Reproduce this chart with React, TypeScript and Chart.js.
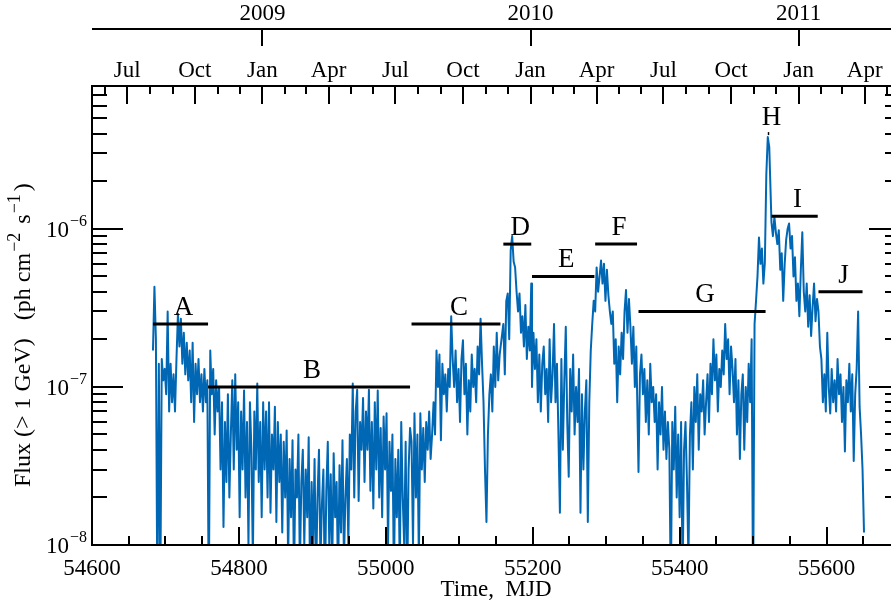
import React, { useEffect, useRef } from 'react';
import { Chart, registerables } from 'chart.js';

Chart.register(...registerables);

const FONT = "'Liberation Serif', 'Times New Roman', serif";
const CURVE_COLOR = 'rgb(0,103,180)';

// axis ranges
const X_MIN = 54600;
const X_MAX = 55700;
const Y_MIN = 1e-8;
const Y_MAX = 8e-6;

// tick labels
const xTickValues = [54600, 54800, 55000, 55200, 55400, 55600];
const yTickValues = [1e-8, 1e-7, 1e-6];
const yTickExponents = ['\u22128', '\u22127', '\u22126'];
const monthTickMJD = [54618, 54648, 54679, 54710, 54740, 54771, 54801, 54832, 54863, 54891, 54922, 54952, 54983, 55013, 55044, 55075, 55105, 55136, 55166, 55197, 55228, 55256, 55287, 55317, 55348, 55378, 55409, 55440, 55470, 55501, 55531, 55562, 55593, 55621, 55652, 55682];
const monthLabelMJD = [54648, 54740, 54832, 54922, 55013, 55105, 55197, 55287, 55378, 55470, 55562, 55652];
const monthLabels = ['Jul', 'Oct', 'Jan', 'Apr', 'Jul', 'Oct', 'Jan', 'Apr', 'Jul', 'Oct', 'Jan', 'Apr'];
const yearTickMJD = [54832, 55197, 55562];
const yearLabels = ['2009', '2010', '2011'];

// flare periods (mean flux bars)
const segLabels = ['A', 'B', 'C', 'D', 'E', 'F', 'G', 'H', 'I', 'J'];
const segStart = [54683, 54758, 55035, 55160, 55199, 55285, 55344, 55520, 55525, 55589];
const segEnd = [54758, 55033, 55156, 55198, 55284, 55342, 55517, 55522, 55588, 55649];
const segFlux = [2.5e-7, 1e-7, 2.5e-7, 8e-7, 5e-7, 8e-7, 3e-7, 4e-6, 1.2e-6, 4e-7];

// light curve: 2-day bins, flux in units of 1e-8 ph cm^-2 s^-1
const FLUX_UNIT = 1e-8;
const BIN_DAYS = 2;
const startA = 54683;
const fluxA = [17, 43, 20, 0.4, 14, 0.5, 15, 11, 13, 9, 30, 7, 14, 8, 12, 7, 15, 29, 18, 27, 14, 22, 12, 19, 11, 17, 8, 19, 6, 14, 9, 15, 8, 12, 7, 13, 8, 11];
const startB = 54759;
const fluxB = [0.4, 17, 9, 13, 5, 11, 7,
  10, 3, 8, 1.3, 6, 2.5, 9, 2, 5,
  11, 3, 12, 4, 8, 1.5, 7,
  3, 9.5, 2, 6, 1, 8, 4, 0.8, 7, 3, 10.5, 2.5, 6, 1.5, 8, 3,
  7, 2, 8, 1.6, 5, 3, 7.5, 1.4, 6, 2.5, 5, 1.2,
  4.5, 2, 5.3, 0.8, 3.5, 1.5, 4.6, 0.6, 3, 2, 5, 0.7, 2.5, 4, 1, 3,
  1.5, 4.8, 0.5, 2.5, 1, 3.5, 0.6, 2, 4, 0.8, 1.8, 3, 0.5, 2.2, 4.5, 1, 2.8, 0.7, 3.8, 1.5, 2.5, 0.6, 3.2, 1.2, 4.6, 0.8, 2, 3.5, 1, 5,
  3, 10.5, 2, 7, 9.6, 1.9, 6, 4, 8.5, 2.5, 7,
  4, 9.6, 2.2, 6, 1.7, 8, 3, 9.5, 2, 5.5, 1.5, 6.5,
  3, 6.8, 1, 4.5, 2.2, 5, 0.6, 3.5, 1.5, 4, 0.7, 6, 2, 1, 4.5, 0.5, 3, 5.5];
const startC = 55035;
const fluxC = [4.5, 1, 6.8, 2, 5, 0.8,
  6.8, 3, 5.5, 2.5, 6, 4, 7, 3.5, 5,
  8, 5, 17, 10, 16, 4.6, 14, 9, 12, 7, 13, 10,
  28, 15, 10,
  17, 8, 13, 6, 15, 19.7, 9, 14, 5, 11, 7, 16, 10, 13, 8, 18, 12,
  27, 14,
  8, 3, 1.4, 5, 9,
  12, 7, 18, 10, 22, 11, 16];
const startD = 55160;
const fluxD = [25, 12, 35, 39, 20, 73, 90, 62, 57, 40, 30, 39, 22, 28, 18, 33, 15, 24, 17, 45];
const startE = 55199;
const fluxE = [10, 22, 13, 20, 8, 16, 7, 14, 18, 9,
  13, 6, 20, 8, 12, 25, 8, 14, 5,
  1.6, 15, 4, 11, 24, 6, 2.7, 13, 7, 16, 5, 10,
  6, 13, 1.6, 9, 3, 7, 11, 1.4, 8,
  17, 25, 35];
const startF = 55285;
const fluxF = [30, 57, 40, 50,
  63, 45, 60, 35, 55, 38, 30,
  25, 30, 14, 20, 8, 18, 12, 22, 15,
  30, 41, 22, 36, 24,
  14, 24, 10, 18];
const startG = 55344;
const fluxG = [2.9, 12,
  16, 9, 13, 6, 11, 5, 14, 8, 10,
  6, 9, 3, 8, 5, 10, 4, 7, 3.5, 6,
  4, 0.5, 6, 3, 7.5, 2, 5, 1.5, 6, 0.6, 4, 6, 2.5, 0.8,
  5, 8, 3, 10, 6, 12, 4, 9, 7, 11, 5, 8, 12, 6,
  14, 9, 20, 11, 16, 7, 13, 10, 17,
  12, 25, 15, 20, 9, 18, 13,
  8, 15, 5, 11, 3.5, 9, 12, 4, 10, 6, 14, 8,
  20, 0.4, 25,
  35, 50, 88, 60, 75, 45,
  61];
const startH = 55518;
const fluxH = [220, 380, 330];
const startI = 55525;
const fluxI = [110, 90, 119, 95,
  80, 98, 55, 70, 35, 60, 85,
  100, 108, 75, 90,
  50, 66, 35, 45, 28, 55,
  95, 40,
  30, 45, 24, 38, 21, 32, 45, 26, 36];
const startJ = 55589;
const fluxJ = [30, 18, 15, 8, 12, 7,
  22, 10, 6.8, 13, 8, 11, 7, 15, 9, 12, 6, 10, 3.9, 11, 8, 14, 7, 12, 3.4, 9, 13,
  30, 7.5, 5, 3, 1.2];

const curveStarts = [startA, startB, startC, startD, startE, startF, startG, startH, startI, startJ];
const curveFluxes = [fluxA, fluxB, fluxC, fluxD, fluxE, fluxF, fluxG, fluxH, fluxI, fluxJ];

function buildCurve() {
  const pts: { x: number; y: number }[] = [];
  curveStarts.forEach((s, k) => {
    curveFluxes[k].forEach((f, i) => pts.push({ x: s + i * BIN_DAYS, y: f * FLUX_UNIT }));
  });
  return pts;
}

const axisPlugin = {
  id: 'frameAxes',
  afterDatasetsDraw(chart: any) {
    const { ctx, chartArea: ca } = chart;
    const xs = chart.scales.x;
    const ys = chart.scales.y;
    ctx.save();
    ctx.strokeStyle = '#000';
    ctx.fillStyle = '#000';
    ctx.lineWidth = 2;
    ctx.lineCap = 'butt';
    const seg = (x1: number, y1: number, x2: number, y2: number) => {
      ctx.beginPath();
      ctx.moveTo(x1, y1);
      ctx.lineTo(x2, y2);
      ctx.stroke();
    };
    // frame
    ctx.strokeRect(ca.left, ca.top, ca.right - ca.left, ca.bottom - ca.top);
    // bottom ticks (inward)
    for (let v = X_MIN; v <= X_MAX; v += 50) {
      const px = Math.round(xs.getPixelForValue(v));
      const len = v % 200 === 0 ? 18 : 9;
      seg(px, ca.bottom, px, ca.bottom - len);
    }
    // top month ticks
    monthTickMJD.forEach((m) => {
      const px = Math.round(xs.getPixelForValue(m));
      const len = monthLabelMJD.includes(m) ? 18 : 8;
      seg(px, ca.top, px, ca.top + len);
    });
    // left/right log ticks
    for (let d = -8; d <= -6; d++) {
      for (let m = 1; m <= 9; m++) {
        const v = m * Math.pow(10, d);
        if (v > Y_MAX * 1.0001) continue;
        const py = Math.round(ys.getPixelForValue(v));
        const len = m === 1 ? 31 : 15;
        seg(ca.left, py, ca.left + len, py);
        seg(ca.right, py, ca.right - len, py);
      }
    }
    // year axis
    const yearY = 29;
    seg(ca.left, yearY, chart.width, yearY);
    yearTickMJD.forEach((m) => {
      const px = Math.round(xs.getPixelForValue(m));
      seg(px, yearY, px, yearY + 17);
    });
    ctx.font = `23px ${FONT}`;
    ctx.textAlign = 'center';
    ctx.textBaseline = 'alphabetic';
    yearTickMJD.forEach((m, i) => {
      ctx.fillText(yearLabels[i], xs.getPixelForValue(m), 20);
    });
    monthLabelMJD.forEach((m, i) => {
      ctx.fillText(monthLabels[i], xs.getPixelForValue(m), 77);
    });
    // y tick labels 10^n
    yTickValues.forEach((v, i) => {
      const py = ys.getPixelForValue(v);
      ctx.font = `16px ${FONT}`;
      const ew = ctx.measureText(yTickExponents[i]).width;
      ctx.font = `23px ${FONT}`;
      const bw = ctx.measureText('10').width;
      const right = 87;
      ctx.textAlign = 'left';
      ctx.fillText('10', right - ew - bw - 1, py + 8);
      ctx.font = `16px ${FONT}`;
      ctx.fillText(yTickExponents[i], right - ew, py - 3);
    });
    // y title (drawn bottom-to-top, starting near the bottom of the axis)
    const parts = [
      { t: 'Flux (> 1 GeV)   (ph cm', sup: false },
      { t: '\u22122', sup: true },
      { t: ' s', sup: false },
      { t: '\u22121', sup: true },
      { t: ')', sup: false },
    ];
    ctx.save();
    ctx.translate(30, 487);
    ctx.rotate(-Math.PI / 2);
    ctx.textAlign = 'left';
    let cx = 0;
    parts.forEach((p) => {
      ctx.font = p.sup ? `18px ${FONT}` : `24px ${FONT}`;
      if (p.sup) cx += 1;
      ctx.fillText(p.t, cx, p.sup ? -10 : 0);
      cx += ctx.measureText(p.t).width + (p.sup ? 3 : 0);
    });
    ctx.restore();
    // period letters
    ctx.font = `27px ${FONT}`;
    ctx.textAlign = 'center';
    segLabels.forEach((lab, i) => {
      const px = xs.getPixelForValue((segStart[i] + segEnd[i]) / 2) + 3;
      const py = ys.getPixelForValue(segFlux[i]);
      ctx.fillText(lab, px, py - 9);
    });
    ctx.restore();
  },
};

export default function App() {
  const ref = useRef<HTMLCanvasElement>(null);
  useEffect(() => {
    const canvas = ref.current;
    if (!canvas) return;
    const datasets: any[] = [
      {
        data: buildCurve(),
        borderColor: CURVE_COLOR,
        borderWidth: 2,
        borderJoinStyle: 'round',
        pointRadius: 0,
        tension: 0,
        order: 2,
      },
    ];
    segLabels.forEach((_, i) => {
      datasets.push({
        data: [
          { x: segStart[i], y: segFlux[i] },
          { x: segEnd[i], y: segFlux[i] },
        ],
        borderColor: '#000',
        borderWidth: 3,
        pointRadius: 0,
        order: 1,
      });
    });
    const chart = new Chart(canvas, {
      type: 'line',
      data: { datasets },
      options: {
        animation: false,
        responsive: false,
        devicePixelRatio: 1,
        events: [],
        layout: { padding: { top: 86, left: 92, right: 1, bottom: 0 } },
        plugins: { legend: { display: false }, tooltip: { enabled: false } },
        scales: {
          x: {
            type: 'linear',
            position: 'bottom',
            min: X_MIN,
            max: X_MAX,
            afterBuildTicks: (s: any) => {
              s.ticks = xTickValues.map((value) => ({ value }));
            },
            ticks: {
              autoSkip: false,
              maxRotation: 0,
              padding: 10,
              color: '#000',
              font: { family: FONT, size: 23 },
              callback: (v: any) => String(v),
            },
            grid: { display: false, drawTicks: false },
            border: { display: false },
            title: {
              display: true,
              text: 'Time,  MJD',
              color: '#000',
              font: { family: FONT, size: 23 },
              padding: { top: 0, bottom: 8 },
            },
            afterFit: (s: any) => {
              s.height = 67;
            },
          },
          y: {
            type: 'logarithmic',
            min: Y_MIN,
            max: Y_MAX,
            display: false,
          },
        },
      },
      plugins: [axisPlugin],
    } as any);
    return () => chart.destroy();
  }, []);
  return (
    <div style={{ position: 'absolute', left: 0, top: 0, width: 891, height: 612, overflow: 'hidden', background: '#fff' }}>
      <canvas ref={ref} width={901} height={612} style={{ display: 'block' }} />
    </div>
  );
}
